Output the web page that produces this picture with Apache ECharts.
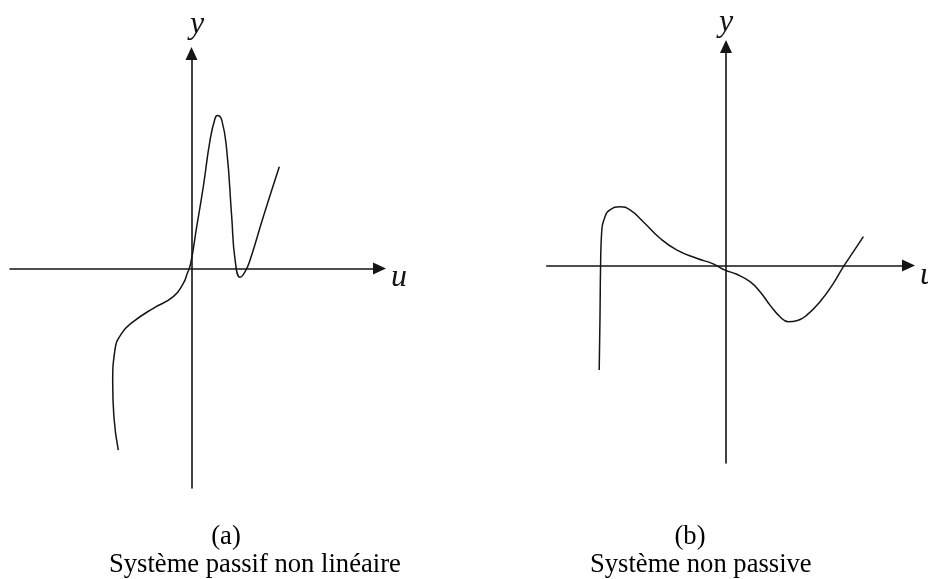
<!DOCTYPE html>
<html>
<head>
<meta charset="utf-8">
<script src="https://cdn.jsdelivr.net/npm/echarts@6/dist/echarts.min.js"></script>
<style>
  html, body { margin: 0; padding: 0; background: #fff; }
  #chart { width: 928px; height: 579px; }
</style>
</head>
<body>
<div id="chart"></div>
<script>
// (a) passive nonlinear system: characteristic y(u)
const passiveU = [-3.66, -3.88, -3.94, -3.83, -3.49, -2.91, -1.91, -0.91, -0.41, -0.21, -0.04, 0.26, 0.59, 0.93, 1.18, 1.30, 1.51, 1.76, 2.01, 2.18, 2.43, 2.68, 2.93, 3.59, 4.39];
const passiveY = [-9.08, -7.41, -5.74, -4.08, -3.24, -2.66, -1.99, -1.41, -0.74, -0.24, 0.26, 2.09, 4.09, 6.43, 7.51, 7.65, 7.43, 5.93, 2.59, 0.43, -0.44, -0.16, 0.43, 2.59, 5.09];

// (b) non-passive system: characteristic y(u)
const activeU = [-6.34, -6.30, -6.27, -6.22, -6.05, -5.80, -5.30, -4.80, -4.14, -3.30, -2.47, -1.47, -0.64, -0.05, 0.54, 1.20, 1.70, 2.20, 2.70, 3.12, 3.54, 4.04, 4.70, 5.37, 5.87, 6.37, 6.87];
const activeY = [-5.23, -2.56, 0.03, 1.61, 2.44, 2.78, 2.94, 2.78, 2.19, 1.36, 0.78, 0.36, 0.08, -0.23, -0.44, -0.81, -1.31, -1.98, -2.56, -2.81, -2.76, -2.48, -1.81, -0.89, -0.06, 0.69, 1.44];

// axis extents (same units as the curves)
const rangeA = { xMin: -9.075, xMax: 9.4, yMin: -10.975, yMax: 10.75 };
const rangeB = { xMin: -8.965, xMax: 9.125, yMin: -9.875, yMax: 10.95 };

const axisLabels = ['y', 'u'];
const panelTags = ['(a)', '(b)'];
const captions = ['Système passif non linéaire', 'Système non passive'];

const INK = '#151515';

function zip(xs, ys) { return xs.map((x, i) => [x, ys[i]]); }

function arrowAxisLine() {
  return {
    show: true,
    onZero: true,
    symbol: ['none', 'triangle'],
    symbolSize: [12, 13],
    lineStyle: { color: INK, width: 1.6 }
  };
}

function makeAxis(gridIndex, min, max) {
  return {
    type: 'value',
    gridIndex,
    min, max,
    axisLine: arrowAxisLine(),
    axisTick: { show: false },
    axisLabel: { show: false },
    splitLine: { show: false }
  };
}

function curve(idx, data) {
  return {
    type: 'line',
    xAxisIndex: idx,
    yAxisIndex: idx,
    data,
    smooth: 0.5,
    showSymbol: false,
    silent: true,
    lineStyle: { color: INK, width: 1.5 }
  };
}

const mathFont = { fontFamily: 'Liberation Serif', fontStyle: 'italic', fontSize: 32, fill: INK };
const captionFont = { fontFamily: 'Liberation Serif', fontSize: 28, fill: '#000' };

function label(text, x, y, style, align, sx) {
  return {
    type: 'text', x, y, silent: true,
    scaleX: sx || 1,
    style: Object.assign({ text, align: align || 'center', verticalAlign: 'middle' }, style)
  };
}

const chart = echarts.init(document.getElementById('chart'), null, { renderer: 'canvas' });
chart.setOption({
  backgroundColor: '#fff',
  animation: false,
  grid: [
    { left: 10, right: 548.5, top: 53.5, bottom: 91 },
    { left: 546.7, right: 19.5, top: 46.5, bottom: 116 }
  ],
  xAxis: [
    makeAxis(0, rangeA.xMin, rangeA.xMax),
    makeAxis(1, rangeB.xMin, rangeB.xMax)
  ],
  yAxis: [
    makeAxis(0, rangeA.yMin, rangeA.yMax),
    makeAxis(1, rangeB.yMin, rangeB.yMax)
  ],
  series: [
    curve(0, zip(passiveU, passiveY)),
    curve(1, zip(activeU, activeY))
  ],
  graphic: [
    label(axisLabels[0], 197, 25, mathFont),
    label(axisLabels[1], 399, 278, mathFont),
    label(axisLabels[0], 726, 23, mathFont),
    label(axisLabels[1], 928, 276, mathFont),
    label(panelTags[0], 226, 537, captionFont, 'center', 0.95),
    label(captions[0], 109, 565, captionFont, 'left', 0.95),
    label(panelTags[1], 690, 537, captionFont, 'center', 0.95),
    label(captions[1], 590, 565, captionFont, 'left', 0.95)
  ]
});
</script>
</body>
</html>
